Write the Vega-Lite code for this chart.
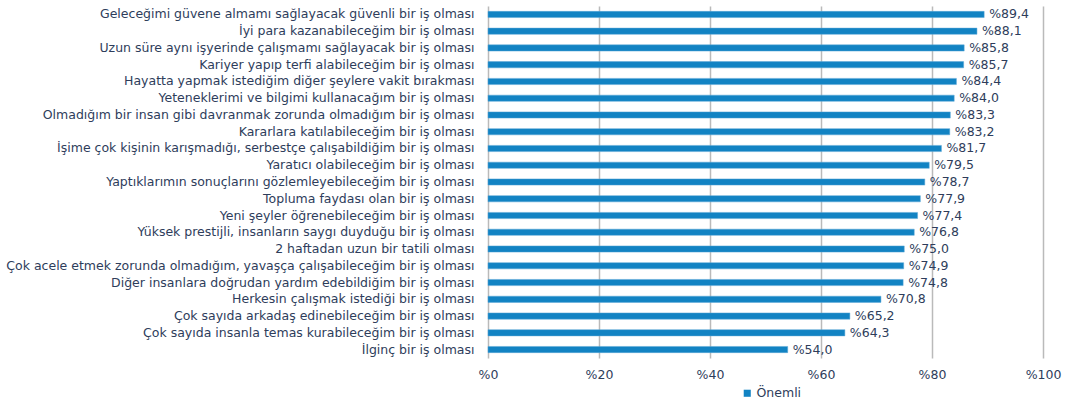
{
  "$schema": "https://vega.github.io/schema/vega-lite/v6.json",
  "autosize": {"type": "none"},
  "padding": {"left": 488, "top": 6, "right": 25, "bottom": 45},
  "width": 555,
  "height": 352,
  "background": "white",
  "config": {
    "view": {"stroke": null},
    "locale": {"number": {"decimal": ",", "thousands": ".", "grouping": [3], "currency": ["%", ""]}},
    "font": "DejaVu Sans"
  },
  "data": {"values": [
    {"item": "Geleceğimi güvene almamı sağlayacak güvenli bir iş olması", "value": 89.4, "group": "Önemli"},
    {"item": "İyi para kazanabileceğim bir iş olması", "value": 88.1, "group": "Önemli"},
    {"item": "Uzun süre aynı işyerinde çalışmamı sağlayacak bir iş olması", "value": 85.8, "group": "Önemli"},
    {"item": "Kariyer yapıp terfi alabileceğim bir iş olması", "value": 85.7, "group": "Önemli"},
    {"item": "Hayatta yapmak istediğim diğer şeylere vakit bırakması", "value": 84.4, "group": "Önemli"},
    {"item": "Yeteneklerimi ve bilgimi kullanacağım bir iş olması", "value": 84.0, "group": "Önemli"},
    {"item": "Olmadığım bir insan gibi davranmak zorunda olmadığım bir iş olması", "value": 83.3, "group": "Önemli"},
    {"item": "Kararlara katılabileceğim bir iş olması", "value": 83.2, "group": "Önemli"},
    {"item": "İşime çok kişinin karışmadığı, serbestçe çalışabildiğim bir iş olması", "value": 81.7, "group": "Önemli"},
    {"item": "Yaratıcı olabileceğim bir iş olması", "value": 79.5, "group": "Önemli"},
    {"item": "Yaptıklarımın sonuçlarını gözlemleyebileceğim bir iş olması", "value": 78.7, "group": "Önemli"},
    {"item": "Topluma faydası olan bir iş olması", "value": 77.9, "group": "Önemli"},
    {"item": "Yeni şeyler öğrenebileceğim bir iş olması", "value": 77.4, "group": "Önemli"},
    {"item": "Yüksek prestijli, insanların saygı duyduğu bir iş olması", "value": 76.8, "group": "Önemli"},
    {"item": "2 haftadan uzun bir tatili olması", "value": 75.0, "group": "Önemli"},
    {"item": "Çok acele etmek zorunda olmadığım, yavaşça çalışabileceğim bir iş olması", "value": 74.9, "group": "Önemli"},
    {"item": "Diğer insanlara doğrudan yardım edebildiğim bir iş olması", "value": 74.8, "group": "Önemli"},
    {"item": "Herkesin çalışmak istediği bir iş olması", "value": 70.8, "group": "Önemli"},
    {"item": "Çok sayıda arkadaş edinebileceğim bir iş olması", "value": 65.2, "group": "Önemli"},
    {"item": "Çok sayıda insanla temas kurabileceğim bir iş olması", "value": 64.3, "group": "Önemli"},
    {"item": "İlginç bir iş olması", "value": 54.0, "group": "Önemli"}
  ]},
  "encoding": {
    "y": {
      "field": "item", "type": "nominal", "sort": null,
      "scale": {"paddingInner": 0.63, "paddingOuter": 0.32},
      "axis": {"title": null, "ticks": false, "domain": false, "labelFontSize": 12.5, "labelColor": "#2E3D5B", "labelPadding": 14, "labelLimit": 600, "labelFont": "DejaVu Sans"}
    },
    "x": {
      "field": "value", "type": "quantitative",
      "scale": {"domain": [0, 100], "nice": false},
      "axis": {"title": null, "values": [0, 20, 40, 60, 80, 100], "format": "$d", "ticks": false, "domain": false, "grid": true, "gridColor": "#BABABA", "gridWidth": 1.5, "labelFontSize": 12.5, "labelColor": "#2E3D5B", "labelPadding": 10, "labelFlush": false, "labelFont": "DejaVu Sans"}
    }
  },
  "layer": [
    {
      "mark": {"type": "bar", "stroke": "#5AA6D6", "strokeWidth": 0.5},
      "encoding": {
        "color": {
          "field": "group", "type": "nominal",
          "scale": {"range": ["#1283C3"]},
          "legend": {"title": null, "orient": "none", "legendX": 253, "legendY": 381, "symbolType": "square", "symbolSize": 50, "symbolStrokeWidth": 0, "labelFontSize": 12.5, "labelColor": "#2E3D5B", "labelFont": "DejaVu Sans", "labelOffset": 3}
        }
      }
    },
    {
      "mark": {"type": "text", "align": "left", "dx": 5, "fontSize": 12.5, "color": "#2E3D5B", "font": "DejaVu Sans"},
      "encoding": {
        "text": {"field": "value", "type": "quantitative", "format": "$.1f"}
      }
    }
  ]
}
